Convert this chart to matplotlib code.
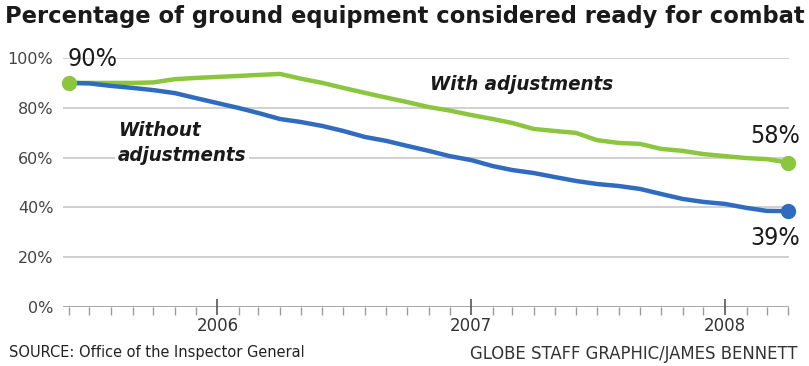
import matplotlib
matplotlib.use("Agg")
import matplotlib.pyplot as plt
import matplotlib.dates as mdates
import pandas as pd

# monthly readings, Jun 2005 - Apr 2008
months = pd.date_range("2005-06-01", "2008-04-01", freq="MS")
with_adj = [90, 90, 90, 90, 90.2, 91.5, 92, 92.4, 92.8, 93.2, 93.6, 91.7,
            90, 88, 86, 84.1, 82.3, 80.3, 78.9, 77.1, 75.5, 73.9, 71.5, 70.7,
            69.9, 67, 65.9, 65.5, 63.5, 62.7, 61.4, 60.6, 59.8, 59.4, 58]
without_adj = [90, 89.8, 88.8, 88, 87.1, 85.9, 83.9, 81.9, 79.9, 77.9, 75.5, 74.3,
               72.7, 70.7, 68.3, 66.7, 64.7, 62.7, 60.6, 59, 56.6, 55, 53.8, 52.2,
               50.6, 49.4, 48.6, 47.4, 45.4, 43.4, 42.2, 41.4, 39.8, 38.6, 38.5]
yticks = [0, 20, 40, 60, 80, 100]
year_ticks = ["2006-01-01", "2007-01-01", "2008-01-01"]
year_labels = ["2006", "2007", "2008"]

GREEN = "#8cc63f"
BLUE = "#2f6cc0"
NARROW = dict(family="DejaVu Sans", stretch="condensed")

W, H = 809, 366
fig = plt.figure(figsize=(W / 100, H / 100), dpi=100)
ax = fig.add_axes([63 / W, 59 / H, 726 / W, 249 / H])

def px(x, y):
    return x / W, 1 - y / H

ax.plot(months, with_adj, color=GREEN, lw=3.2, solid_capstyle="round", zorder=3)
ax.plot(months, without_adj, color=BLUE, lw=3.2, solid_capstyle="round", zorder=3)
ax.plot(months[[0, -1]], [with_adj[0], with_adj[-1]], "o", color=GREEN, ms=10,
        zorder=4, clip_on=False)
ax.plot(months[-1], without_adj[-1], "o", color=BLUE, ms=10, zorder=4, clip_on=False)

ax.set_ylim(0, 100)
ax.set_xlim(pd.Timestamp("2005-05-24"), pd.Timestamp("2008-04-02"))
ax.set_yticks(yticks)
ax.set_yticklabels([f"{v}%" for v in yticks], family="DejaVu Sans", fontsize=11.5,
                   color="#444444")
ax.tick_params(axis="y", length=0, pad=7)
for v in yticks[1:]:
    ax.axhline(v, color="#d0d0d0", lw=1.4, zorder=1)
ax.axhline(0, color="#999999", lw=1.2, zorder=1)

ax.set_xticks(pd.to_datetime(year_ticks))
ax.set_xticklabels(year_labels, family="DejaVu Sans", fontsize=12, color="#333333")
ax.xaxis.set_minor_locator(mdates.MonthLocator())
ax.tick_params(axis="x", which="major", direction="inout", length=12, width=1.2,
               color="#555555", pad=1)
ax.tick_params(axis="x", which="minor", direction="out", length=6, width=1,
               color="#999999")
for s in ax.spines.values():
    s.set_visible(False)

fig.text(*px(5, 17), "Percentage of ground equipment considered ready for combat",
         family="DejaVu Sans", weight="bold", fontsize=16.3, color="#1a1a1a", va="center")

fig.text(*px(93, 59), "90%", **NARROW, fontsize=18, color="#1a1a1a",
         ha="center", va="center")
fig.text(*px(775, 136), "58%", **NARROW, fontsize=18, color="#1a1a1a",
         ha="center", va="center")
fig.text(*px(775, 238), "39%", **NARROW, fontsize=18, color="#1a1a1a",
         ha="center", va="center")

ax.text(*px(430, 84), "With adjustments", **NARROW, weight="bold",
        style="italic", fontsize=14.7, color="#1a1a1a", va="center",
        transform=fig.transFigure, zorder=2)
ax.text(*px(118, 143), "Without\nadjustments", **NARROW, weight="bold",
        style="italic", fontsize=14.7, color="#1a1a1a", va="center", linespacing=1.4,
        transform=fig.transFigure, zorder=2,
        bbox=dict(facecolor="white", edgecolor="none", pad=2))

fig.text(*px(9, 353), "SOURCE: Office of the Inspector General", **NARROW,
         fontsize=11.7, color="#222222", va="center")
fig.text(*px(798, 354), "GLOBE STAFF GRAPHIC/JAMES BENNETT", family="DejaVu Sans",
         fontsize=11.9, color="#333333", va="center", ha="right")

fig.savefig("out.png", dpi=100)
